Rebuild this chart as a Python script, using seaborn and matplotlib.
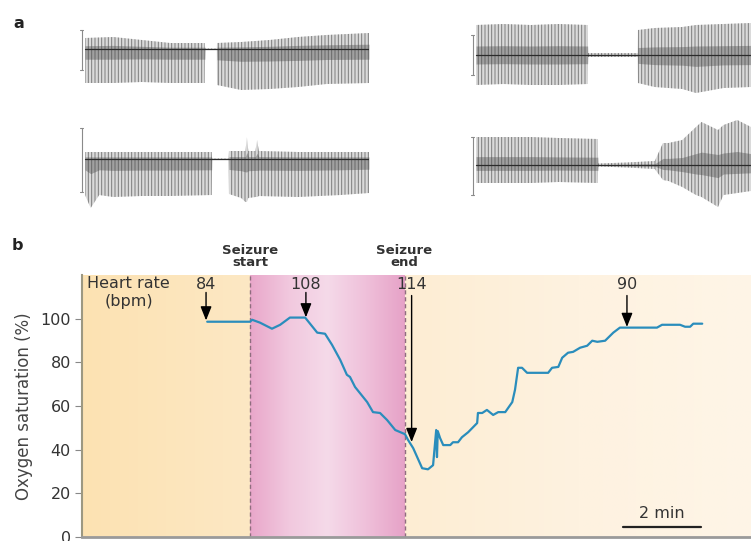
import numpy as np
import matplotlib
matplotlib.use("Agg")
import matplotlib.pyplot as plt
from matplotlib.colors import LinearSegmentedColormap
import pandas as pd
import seaborn as sns

# ---------------- data: panel b (oxygen saturation) ----------------
time_min = [3.21, 4.31, 4.36, 4.56, 4.87, 5.08, 5.33, 5.72, 6.03, 6.23, 6.41, 6.62,
            6.79, 6.87, 7.00, 7.31, 7.46, 7.64, 7.82, 8.03, 8.28, 8.36, 8.49, 8.72,
            8.87, 9.00, 9.08, 9.10, 9.12, 9.18, 9.26, 9.44, 9.51, 9.64, 9.74, 9.90,
            10.13, 10.15, 10.26, 10.38, 10.54, 10.67, 10.85, 11.03, 11.10, 11.18,
            11.28, 11.41, 11.95, 12.05, 12.21, 12.31, 12.46, 12.59, 12.77, 12.95,
            13.08, 13.21, 13.41, 13.62, 13.79, 13.97, 14.74, 14.87, 15.33, 15.46,
            15.59, 15.67, 15.90]
spo2 = [98.6, 98.6, 99.5, 98.2, 95.4, 97.2, 100.5, 100.5, 93.6, 93.1, 88.0, 81.1,
        74.3, 73.3, 68.7, 61.8, 57.2, 56.8, 53.6, 49.0, 47.1, 44.4, 40.7, 31.5,
        31.0, 32.9, 49.0, 36.6, 48.5, 45.3, 42.1, 42.1, 43.4, 43.4, 45.7, 48.0,
        52.2, 56.8, 56.8, 58.2, 55.9, 57.2, 57.2, 61.8, 67.4, 77.5, 77.5, 75.2,
        75.2, 77.5, 77.9, 82.1, 84.4, 84.8, 86.7, 87.6, 89.9, 89.4, 89.9, 93.6,
        95.9, 95.9, 95.9, 97.2, 97.2, 96.3, 96.3, 97.7, 97.7]
seizure_start = 4.31
seizure_end = 8.28
hr_times = [3.18, 5.74, 8.45, 13.97]
hr_labels = ["84", "108", "114", "90"]
hr_arrow_top = [112.0, 112.0, 110.6, 110.6]
hr_arrow_tip = [99.2, 100.6, 43.5, 96.2]
yticks = [0, 20, 40, 60, 80, 100]

# ---------------- data: panel a (EEG envelopes, % of trace width) ----------------
tr1_x = [0, 10, 20, 30, 42.2, 42.3, 46.4, 46.5, 55, 65, 75, 85, 100]
tr1_up = [1.1, 1.2, 0.9, 0.6, 0.6, 0.05, 0.05, 0.6, 0.7, 0.9, 1.2, 1.4, 1.6]
tr1_lo = [3.4, 3.4, 3.3, 3.4, 3.4, 0.05, 0.05, 3.6, 4.1, 4.0, 3.8, 3.5, 3.4]

tr2_x = [0, 2, 5, 10, 20, 30, 44.6, 44.7, 50.6, 50.7, 55, 56.5, 57, 57.5, 60, 60.6, 61.2, 75, 90, 100]
tr2_up = [0.7, 0.7, 0.7, 0.7, 0.7, 0.7, 0.7, 0.05, 0.05, 0.8, 0.8, 0.8, 2.2, 0.8, 0.8, 1.9, 0.8, 0.7, 0.7, 0.7]
tr2_lo = [3.6, 4.9, 3.6, 3.8, 3.7, 3.7, 3.6, 0.05, 0.05, 3.5, 3.9, 4.3, 4.3, 3.9, 3.8, 3.8, 3.7, 3.8, 3.6, 3.4]

tr3_x = [0, 10, 20, 30, 40.6, 40.7, 50, 58.8, 58.9, 65, 75, 80, 90, 100]
tr3_up = [3.0, 3.1, 3.0, 3.1, 3.0, 0.2, 0.2, 0.2, 2.5, 2.7, 2.8, 3.0, 3.1, 3.2]
tr3_lo = [3.0, 2.9, 3.0, 3.0, 2.9, 0.2, 0.2, 0.2, 2.8, 3.2, 3.4, 3.8, 3.3, 3.2]

tr4_x = [0, 10, 20, 30, 44.3, 44.4, 55, 65, 68, 70, 75, 80, 82, 88, 90, 95, 100]
tr4_up = [2.8, 2.8, 2.8, 2.7, 2.6, 0.15, 0.25, 0.4, 2.2, 2.2, 2.5, 3.8, 4.3, 3.5, 4.0, 4.5, 3.8]
tr4_lo = [1.8, 1.8, 1.8, 1.7, 1.8, 0.15, 0.25, 0.4, 1.5, 1.6, 2.2, 3.0, 3.2, 4.2, 3.0, 2.8, 2.6]

# ---------------- styling ----------------
sns.set_theme(style="white")
plt.rcParams["font.family"] = ["DejaVu Sans"]
plt.rcParams["hatch.linewidth"] = 0.7

W, H = 751, 541
fig = plt.figure(figsize=(W / 100, H / 100), dpi=100)


def px_axes(x0, y0, x1, y1):
    return fig.add_axes([x0 / W, 1 - y1 / H, (x1 - x0) / W, (y1 - y0) / H])


TXT = "#333333"
FS = 11.5

# ---------------- panel a ----------------
def draw_trace(x0, x1, base, xs, up, lo, bar):
    per = (x1 - x0) / 100.0
    ax = px_axes(x0 - 2.5 * per, base - 50, x1, base + 50)
    ax.set_xlim(-2.5, 100)
    ax.set_ylim(-5, 5)
    ax.axis("off")
    up = np.asarray(up, float)
    lo = -np.asarray(lo, float)
    ax.fill_between(xs, lo, up, facecolor="#dadada", edgecolor="#7c7c7c",
                    hatch="|||||", linewidth=0)
    ax.fill_between(xs, 0.3 * lo, 0.3 * up, facecolor="#4a4a4a", alpha=0.4, linewidth=0)
    ax.plot([0, 100], [0, 0], color="#2a2a2a", lw=0.9)
    ax.plot([-1.2, -1.2], [bar[1], bar[0]], color="#8a8a8a", lw=0.8)
    for yv in bar:
        ax.plot([-1.8, -0.6], [yv, yv], color="#8a8a8a", lw=0.8)


draw_trace(85, 369, 49, tr1_x, tr1_up, tr1_lo, (1.9, -2.1))
draw_trace(85, 369, 159, tr2_x, tr2_up, tr2_lo, (3.1, -3.3))
draw_trace(476, 751, 55, tr3_x, tr3_up, tr3_lo, (2.0, -2.0))
draw_trace(476, 751, 165, tr4_x, tr4_up, tr4_lo, (2.8, -3.0))

fig.text(13 / W, 1 - 23 / H, "a", fontsize=11.5, fontweight="bold", color="#222", va="center")
fig.text(12 / W, 1 - 246 / H, "b", fontsize=11.5, fontweight="bold", color="#222", va="center")

# ---------------- panel b ----------------
ax = px_axes(82, 275, 751, 537)
XMAX = 17.15
ax.set_xlim(0, XMAX)
ax.set_ylim(0, 120)

grad = np.linspace(0, 1, 256).reshape(1, -1)
regions = [
    (0, seizure_start, ["#FCE2B2", "#FDE8C4"]),
    (seizure_start, seizure_end, ["#E9A7CA", "#F1C8DE", "#F5DAE9", "#EFC0DA", "#E6A2C7"]),
    (seizure_end, XMAX, ["#FDEDD3", "#FEF2E0", "#FEF5E7"]),
]
for xa, xb, cols in regions:
    cmap = LinearSegmentedColormap.from_list("g", cols)
    ax.imshow(grad, extent=[xa, xb, 0, 120], aspect="auto", cmap=cmap, zorder=0,
              interpolation="bilinear")

for xv in (seizure_start, seizure_end):
    ax.axvline(xv, color="#8f6d7e", lw=1.0, dashes=(3, 2), zorder=2)

df = pd.DataFrame({"t": time_min, "spo2": spo2})
sns.lineplot(data=df, x="t", y="spo2", ax=ax, color="#2A8DBC", lw=1.6,
             sort=False, estimator=None, zorder=3)

for t, lab, top, tip in zip(hr_times, hr_labels, hr_arrow_top, hr_arrow_tip):
    ax.text(t, 115.8, lab, ha="center", va="center", fontsize=FS, color=TXT, zorder=5)
    ax.annotate("", xy=(t, tip), xytext=(t, top),
                arrowprops=dict(arrowstyle="-|>,head_length=0.7,head_width=0.28",
                                color="black", lw=1.0, shrinkA=0, shrinkB=0), zorder=5)

ax.text(1.2, 119.6, "Heart rate\n(bpm)", ha="center", va="top", fontsize=FS,
        color=TXT, linespacing=1.25)
ax.text(seizure_start, 128.5, "Seizure\nstart", ha="center", va="center", fontsize=9.5,
        fontweight="bold", color=TXT, linespacing=0.95, clip_on=False)
ax.text(seizure_end - 0.03, 128.5, "Seizure\nend", ha="center", va="center", fontsize=9.5,
        fontweight="bold", color=TXT, linespacing=0.95, clip_on=False)

# 2 min scale bar
ax.plot([13.87, 15.87], [4.8, 4.8], color="#222", lw=1.6, zorder=4)
ax.text(14.87, 10.8, "2 min", ha="center", va="center", fontsize=FS, color=TXT)

ax.set_yticks(yticks)
ax.set_yticklabels([str(v) for v in yticks], fontsize=FS, color=TXT)
ax.set_xticks([])
ax.tick_params(axis="y", which="both", left=True, length=5, width=0.8, color="#888",
               direction="out", pad=3)
ax.set_xlabel("")
ax.set_ylabel("Oxygen saturation (%)", fontsize=12, color="#444", labelpad=5)
for s in ("top", "right"):
    ax.spines[s].set_visible(False)
ax.spines["left"].set_color("#9c9882")
ax.spines["left"].set_linewidth(1.5)
ax.spines["bottom"].set_color("#9a9a9a")
ax.spines["bottom"].set_linewidth(2)

fig.savefig("out.png", dpi=100)
